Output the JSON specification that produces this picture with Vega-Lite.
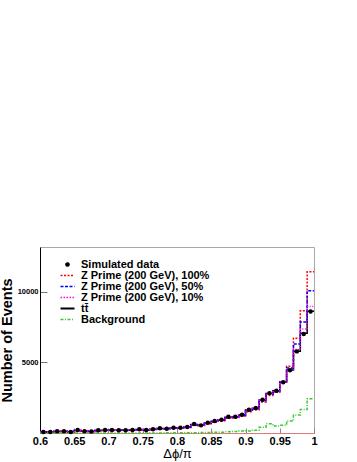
{
  "$schema": "https://vega.github.io/schema/vega-lite/v6.json",
  "width": 274,
  "height": 186,
  "autosize": "none",
  "padding": {"left": 40, "top": 247, "right": 43, "bottom": 29},
  "background": "white",
  "config": {
    "view": {"stroke": "#b0a4a4", "strokeWidth": 1},
    "font": "Liberation Sans"
  },
  "datasets": {
    "h": [
      {"lo": 0.60, "c": 0.605, "data": 70, "tt": 70, "zp100": 65, "zp50": 68, "zp10": 70, "bkg": 0},
      {"lo": 0.61, "c": 0.615, "data": 70, "tt": 80, "zp100": 75, "zp50": 78, "zp10": 80, "bkg": 0},
      {"lo": 0.62, "c": 0.625, "data": 120, "tt": 110, "zp100": 100, "zp50": 105, "zp10": 110, "bkg": 0},
      {"lo": 0.63, "c": 0.635, "data": 120, "tt": 120, "zp100": 110, "zp50": 115, "zp10": 120, "bkg": 0},
      {"lo": 0.64, "c": 0.645, "data": 70, "tt": 90, "zp100": 85, "zp50": 88, "zp10": 90, "bkg": 0},
      {"lo": 0.65, "c": 0.655, "data": 210, "tt": 180, "zp100": 165, "zp50": 175, "zp10": 180, "bkg": 0},
      {"lo": 0.66, "c": 0.665, "data": 120, "tt": 130, "zp100": 120, "zp50": 125, "zp10": 130, "bkg": 0},
      {"lo": 0.67, "c": 0.675, "data": 100, "tt": 110, "zp100": 100, "zp50": 105, "zp10": 110, "bkg": 0},
      {"lo": 0.68, "c": 0.685, "data": 190, "tt": 180, "zp100": 165, "zp50": 175, "zp10": 180, "bkg": 0},
      {"lo": 0.69, "c": 0.695, "data": 210, "tt": 200, "zp100": 185, "zp50": 195, "zp10": 200, "bkg": 0},
      {"lo": 0.70, "c": 0.705, "data": 210, "tt": 200, "zp100": 185, "zp50": 195, "zp10": 200, "bkg": 0},
      {"lo": 0.71, "c": 0.715, "data": 190, "tt": 195, "zp100": 180, "zp50": 190, "zp10": 195, "bkg": 0},
      {"lo": 0.72, "c": 0.725, "data": 190, "tt": 200, "zp100": 185, "zp50": 195, "zp10": 200, "bkg": 0},
      {"lo": 0.73, "c": 0.735, "data": 210, "tt": 210, "zp100": 195, "zp50": 205, "zp10": 210, "bkg": 0},
      {"lo": 0.74, "c": 0.745, "data": 260, "tt": 240, "zp100": 220, "zp50": 235, "zp10": 240, "bkg": 0},
      {"lo": 0.75, "c": 0.755, "data": 210, "tt": 220, "zp100": 205, "zp50": 215, "zp10": 220, "bkg": 0},
      {"lo": 0.76, "c": 0.765, "data": 260, "tt": 260, "zp100": 240, "zp50": 252, "zp10": 260, "bkg": 5},
      {"lo": 0.77, "c": 0.775, "data": 330, "tt": 310, "zp100": 285, "zp50": 300, "zp10": 310, "bkg": 5},
      {"lo": 0.78, "c": 0.785, "data": 300, "tt": 310, "zp100": 285, "zp50": 300, "zp10": 310, "bkg": 10},
      {"lo": 0.79, "c": 0.795, "data": 375, "tt": 360, "zp100": 330, "zp50": 350, "zp10": 360, "bkg": 10},
      {"lo": 0.80, "c": 0.805, "data": 375, "tt": 380, "zp100": 350, "zp50": 368, "zp10": 380, "bkg": 15},
      {"lo": 0.81, "c": 0.815, "data": 420, "tt": 430, "zp100": 395, "zp50": 415, "zp10": 430, "bkg": 20},
      {"lo": 0.82, "c": 0.825, "data": 630, "tt": 600, "zp100": 555, "zp50": 580, "zp10": 600, "bkg": 25},
      {"lo": 0.83, "c": 0.835, "data": 540, "tt": 560, "zp100": 515, "zp50": 540, "zp10": 560, "bkg": 30},
      {"lo": 0.84, "c": 0.845, "data": 730, "tt": 710, "zp100": 655, "zp50": 690, "zp10": 710, "bkg": 40},
      {"lo": 0.85, "c": 0.855, "data": 845, "tt": 830, "zp100": 765, "zp50": 800, "zp10": 830, "bkg": 50},
      {"lo": 0.86, "c": 0.865, "data": 940, "tt": 930, "zp100": 860, "zp50": 900, "zp10": 930, "bkg": 60},
      {"lo": 0.87, "c": 0.875, "data": 1150, "tt": 1120, "zp100": 1040, "zp50": 1085, "zp10": 1120, "bkg": 80},
      {"lo": 0.88, "c": 0.885, "data": 1150, "tt": 1140, "zp100": 1055, "zp50": 1105, "zp10": 1140, "bkg": 110},
      {"lo": 0.89, "c": 0.895, "data": 1290, "tt": 1290, "zp100": 1195, "zp50": 1250, "zp10": 1290, "bkg": 140},
      {"lo": 0.90, "c": 0.905, "data": 1640, "tt": 1620, "zp100": 1510, "zp50": 1570, "zp10": 1620, "bkg": 150},
      {"lo": 0.91, "c": 0.915, "data": 1760, "tt": 1750, "zp100": 1640, "zp50": 1700, "zp10": 1750, "bkg": 200},
      {"lo": 0.92, "c": 0.925, "data": 2350, "tt": 2330, "zp100": 2200, "zp50": 2280, "zp10": 2330, "bkg": 400},
      {"lo": 0.93, "c": 0.935, "data": 2820, "tt": 2800, "zp100": 2660, "zp50": 2740, "zp10": 2800, "bkg": 650},
      {"lo": 0.94, "c": 0.945, "data": 2980, "tt": 2980, "zp100": 2880, "zp50": 2940, "zp10": 2990, "bkg": 500},
      {"lo": 0.95, "c": 0.955, "data": 3590, "tt": 3600, "zp100": 3620, "zp50": 3610, "zp10": 3600, "bkg": 540},
      {"lo": 0.96, "c": 0.965, "data": 4440, "tt": 4460, "zp100": 4720, "zp50": 4600, "zp10": 4480, "bkg": 845},
      {"lo": 0.97, "c": 0.975, "data": 5770, "tt": 5780, "zp100": 6700, "zp50": 6300, "zp10": 5900, "bkg": 1270},
      {"lo": 0.98, "c": 0.985, "data": 7000, "tt": 7050, "zp100": 8650, "zp50": 7850, "zp10": 7350, "bkg": 1670},
      {"lo": 0.99, "c": 0.995, "data": 8590, "tt": 8600, "zp100": 11400, "zp50": 10050, "zp10": 8950, "bkg": 2420},
      {"lo": 1.00, "c": null, "data": null, "tt": 8600, "zp100": 11400, "zp50": 10050, "zp10": 8950, "bkg": 2420}
    ]
  },
  "layer": [
    {
      "data": {"name": "h"},
      "transform": [{"fold": ["tt", "zp100", "zp50", "zp10", "bkg"], "as": ["key", "v"]}],
      "mark": {"type": "line", "interpolate": "step-after"},
      "encoding": {
        "x": {
          "field": "lo", "type": "quantitative",
          "scale": {"domain": [0.6, 1.0], "nice": false, "zero": false},
          "axis": {
            "title": "Δϕ/π",
            "values": [0.6, 0.65, 0.7, 0.75, 0.8, 0.85, 0.9, 0.95, 1.0],
            "format": ".2~f",
            "grid": false,
            "tickSize": -5,
            "tickColor": "#888888",
            "labelPadding": 7,
            "labelOverlap": false,
            "labelFontSize": 11,
            "labelFontWeight": "bold",
            "labelColor": "#000000",
            "labelFlush": false,
            "domainColor": "#e07878",
            "titleFontSize": 13,
            "titleFontWeight": "normal",
            "titleColor": "#000000",
            "titlePadding": 1
          }
        },
        "y": {
          "field": "v", "type": "quantitative",
          "scale": {"domain": [0, 13150], "nice": false},
          "axis": {
            "title": "Number of Events",
            "values": [5000, 10000],
            "format": "d",
            "grid": false,
            "tickSize": -7,
            "tickColor": "#777777",
            "labelPadding": 9,
            "labelOverlap": false,
            "labelFontSize": 7.5,
            "labelFontWeight": "bold",
            "labelColor": "#000000",
            "domainColor": "#000000",
            "titleFontSize": 14.5,
            "titleFontWeight": "bold",
            "titleColor": "#000000",
            "titlePadding": 3
          }
        },
        "color": {
          "field": "key", "type": "nominal",
          "scale": {
            "domain": ["data", "zp100", "zp50", "zp10", "tt", "bkg"],
            "range": ["#000000", "#ff0000", "#0000ff", "#ff00ff", "#000000", "#33cc33"]
          },
          "legend": {
            "orient": "none",
            "legendX": 22,
            "legendY": 12,
            "title": null,
            "padding": 0,
            "symbolType": "stroke",
            "symbolSize": 196,
            "symbolStrokeWidth": 1.5,
            "rowPadding": -1.3,
            "labelFontSize": 11,
            "labelFontWeight": "bold",
            "labelColor": "#000000",
            "labelOffset": 8,
            "labelLimit": 300,
            "labelExpr": "{'data':'Simulated data','zp100':'Z Prime (200 GeV), 100%','zp50':'Z Prime (200 GeV), 50%','zp10':'Z Prime (200 GeV), 10%','tt':'tt̄','bkg':'Background'}[datum.value]",
            "encode": {
              "symbols": {
                "update": {
                  "shape": {"signal": "datum.value === 'data' ? 'circle' : 'stroke'"},
                  "fill": {"signal": "datum.value === 'data' ? '#000000' : 'transparent'"},
                  "stroke": {"signal": "datum.value === 'zp100' ? '#ff0000' : datum.value === 'zp50' ? '#0000ff' : datum.value === 'zp10' ? '#ff00ff' : datum.value === 'bkg' ? '#33cc33' : '#000000'"},
                  "opacity": {"value": 1},
                  "strokeOpacity": {"value": 1},
                  "size": {"signal": "datum.value === 'data' ? 10 : 196"},
                  "strokeDash": {"signal": "datum.value === 'zp100' ? [2, 1.5] : datum.value === 'zp50' ? [3, 1.5] : datum.value === 'zp10' ? [1.5, 1.5] : datum.value === 'bkg' ? [3, 1.5, 1, 1.5] : [1, 0]"},
                  "strokeWidth": {"signal": "datum.value === 'tt' ? 2 : 1.5"}
                }
              }
            }
          }
        },
        "strokeDash": {
          "field": "key", "type": "nominal",
          "scale": {
            "domain": ["zp100", "zp50", "zp10", "tt", "bkg"],
            "range": [[2, 1.5], [3, 1.5], [1, 1.5], [1, 0], [3, 1.5, 1, 1.5]]
          },
          "legend": null
        },
        "strokeWidth": {
          "field": "key", "type": "nominal",
          "scale": {
            "domain": ["zp100", "zp50", "zp10", "tt", "bkg"],
            "range": [1.5, 1.5, 1.5, 2, 1]
          },
          "legend": null
        }
      }
    },
    {
      "data": {"name": "h"},
      "mark": {"type": "circle", "size": 20, "opacity": 1},
      "encoding": {
        "x": {
          "field": "c", "type": "quantitative",
          "axis": {
            "title": "Δϕ/π",
            "values": [0.6, 0.65, 0.7, 0.75, 0.8, 0.85, 0.9, 0.95, 1.0],
            "format": ".2~f",
            "grid": false,
            "tickSize": -5,
            "tickColor": "#888888",
            "labelPadding": 7,
            "labelOverlap": false,
            "labelFontSize": 11,
            "labelFontWeight": "bold",
            "labelColor": "#000000",
            "labelFlush": false,
            "domainColor": "#e07878",
            "titleFontSize": 13,
            "titleFontWeight": "normal",
            "titleColor": "#000000",
            "titlePadding": 1
          }
        },
        "y": {
          "field": "data", "type": "quantitative",
          "axis": {
            "title": "Number of Events",
            "values": [5000, 10000],
            "format": "d",
            "grid": false,
            "tickSize": -7,
            "tickColor": "#777777",
            "labelPadding": 9,
            "labelOverlap": false,
            "labelFontSize": 7.5,
            "labelFontWeight": "bold",
            "labelColor": "#000000",
            "domainColor": "#000000",
            "titleFontSize": 14.5,
            "titleFontWeight": "bold",
            "titleColor": "#000000",
            "titlePadding": 3
          }
        },
        "color": {"value": "#000000"}
      }
    }
  ]
}
